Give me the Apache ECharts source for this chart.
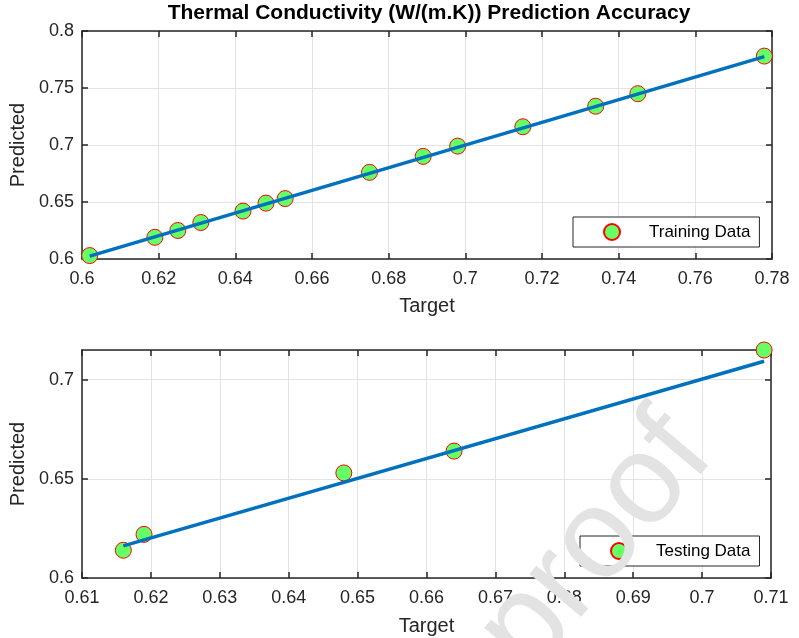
<!DOCTYPE html>
<html>
<head>
<meta charset="utf-8">
<title>Thermal Conductivity Prediction Accuracy</title>
<script src="https://cdn.jsdelivr.net/npm/echarts@6/dist/echarts.min.js"></script>
<style>
    html, body { margin: 0; padding: 0; background: #fff; }
    #chart { width: 799px; height: 638px; }
</style>
</head>
<body>
<div id="chart"></div>
<script>
// training set (target vs predicted)
var trainTarget = [0.602, 0.619, 0.625, 0.631, 0.642, 0.648, 0.653, 0.675, 0.689, 0.698, 0.715, 0.734, 0.745, 0.778];
var trainPred   = [0.603, 0.619, 0.625, 0.632, 0.642, 0.649, 0.653, 0.676, 0.690, 0.699, 0.716, 0.734, 0.745, 0.778];
// fitted line ends
var trainFitX = [0.602, 0.778];
var trainFitY = [0.6025, 0.7775];

// testing set
var testTarget = [0.616, 0.619, 0.648, 0.664, 0.709];
var testPred   = [0.614, 0.622, 0.653, 0.664, 0.715];
var testFitX = [0.616, 0.709];
var testFitY = [0.6162, 0.7093];

var FONT = '"Liberation Sans", Arial, Helvetica, sans-serif';
var INK = '#262626';

function pairs(xs, ys) {
    return xs.map(function (x, i) { return [x, ys[i]]; });
}

function fmt(v) {
    return String(+v.toFixed(3));
}

// main axis with labels + grid lines
function mainX(grid, min, max, step, gap) {
    return {
        type: 'value', gridIndex: grid, min: min, max: max, interval: step,
        name: 'Target', nameLocation: 'middle', nameGap: gap,
        nameTextStyle: { fontFamily: FONT, fontSize: 20, color: INK },
        axisLine: { show: true, onZero: false, lineStyle: { color: INK, width: 1.5 } },
        axisTick: { show: true, inside: true, length: 6, lineStyle: { color: INK, width: 1.5 } },
        axisLabel: { fontFamily: FONT, fontSize: 18, color: INK, margin: 11, formatter: fmt },
        splitLine: { show: true, lineStyle: { color: '#e3e3e3', width: 1 } }
    };
}

function mainY(grid, min, max, step, hideMax) {
    return {
        type: 'value', gridIndex: grid, min: min, max: max, interval: step,
        name: 'Predicted', nameLocation: 'middle', nameGap: 49,
        nameTextStyle: { fontFamily: FONT, fontSize: 20, color: INK },
        axisLine: { show: true, onZero: false, lineStyle: { color: INK, width: 1.5 } },
        axisTick: { show: true, inside: true, length: 6, lineStyle: { color: INK, width: 1.5 } },
        axisLabel: { fontFamily: FONT, fontSize: 18, color: INK, margin: 8, formatter: fmt, showMaxLabel: !hideMax },
        splitLine: { show: true, lineStyle: { color: '#e3e3e3', width: 1 } }
    };
}

// box edges (top / right), ticks only
function edgeAxis(kind, grid, min, max, step) {
    return {
        type: 'value', gridIndex: grid, min: min, max: max, interval: step,
        position: kind === 'x' ? 'top' : 'right',
        axisLine: { show: true, onZero: false, lineStyle: { color: INK, width: 1.5 } },
        axisTick: { show: true, inside: true, length: 6, lineStyle: { color: INK, width: 1.5 } },
        axisLabel: { show: false },
        splitLine: { show: false }
    };
}

var markerStyle = { color: '#66ff66', borderColor: '#ff0000', borderWidth: 1, opacity: 1 };
var lineStyle = { color: '#0072bd', width: 3.5 };

function legendFor(name, left, top, padLeft, textPad) {
    return {
        data: [name], left: left, top: top, orient: 'vertical',
        padding: [6, 9, 6, padLeft],
        itemWidth: 16, itemHeight: 16,
        backgroundColor: '#fff', borderColor: INK, borderWidth: 1, borderRadius: 0,
        textStyle: { fontFamily: FONT, fontSize: 17, color: '#000', padding: [0, 0, 0, textPad] }
    };
}

var chart = echarts.init(document.getElementById('chart'), null, { renderer: 'canvas' });

chart.setOption({
    backgroundColor: '#fff',
    animation: false,
    title: {
        text: 'Thermal Conductivity (W/(m.K)) Prediction Accuracy',
        left: 429, top: 3, padding: 0, textAlign: 'center',
        textStyle: { fontFamily: FONT, fontSize: 21, fontWeight: 'bold', color: '#000' }
    },
    grid: [
        { left: 82, right: 27, top: 31, height: 228, containLabel: false },
        { left: 82, right: 28, top: 350, height: 228, containLabel: false }
    ],
    legend: [
        legendFor('Training Data', 573, 217, 30, 24),
        legendFor('Testing Data', 580, 536, 30, 24)
    ],
    xAxis: [
        mainX(0, 0.6, 0.78, 0.02, 37),
        edgeAxis('x', 0, 0.6, 0.78, 0.02),
        mainX(1, 0.61, 0.71, 0.01, 38),
        edgeAxis('x', 1, 0.61, 0.71, 0.01)
    ],
    yAxis: [
        mainY(0, 0.6, 0.8, 0.05, false),
        edgeAxis('y', 0, 0.6, 0.8, 0.05),
        mainY(1, 0.6, 0.715, 0.05, true),
        edgeAxis('y', 1, 0.6, 0.715, 0.05)
    ],
    series: [
        {
            name: 'Training Data', type: 'scatter', xAxisIndex: 0, yAxisIndex: 0,
            symbol: 'circle', symbolSize: 16, itemStyle: markerStyle,
            data: pairs(trainTarget, trainPred), z: 2
        },
        {
            name: 'train fit', type: 'line', xAxisIndex: 0, yAxisIndex: 0,
            showSymbol: false, symbol: 'none', lineStyle: lineStyle,
            data: pairs(trainFitX, trainFitY), z: 3
        },
        {
            name: 'Testing Data', type: 'scatter', xAxisIndex: 2, yAxisIndex: 2,
            symbol: 'circle', symbolSize: 16, itemStyle: markerStyle,
            data: pairs(testTarget, testPred), z: 2
        },
        {
            name: 'test fit', type: 'line', xAxisIndex: 2, yAxisIndex: 2,
            showSymbol: false, symbol: 'none', lineStyle: lineStyle,
            data: pairs(testFitX, testFitY), z: 3
        }
    ],
    // faint "proof" watermark laid over the lower plot
    graphic: [{
        type: 'text', x: 738, y: 474, rotation: 0.873, z: 100, silent: true,
        style: {
            text: 'proof', fill: '#e3e3e3',
            font: '127px ' + FONT, textAlign: 'right', textVerticalAlign: 'bottom'
        }
    }]
});
</script>
</body>
</html>
